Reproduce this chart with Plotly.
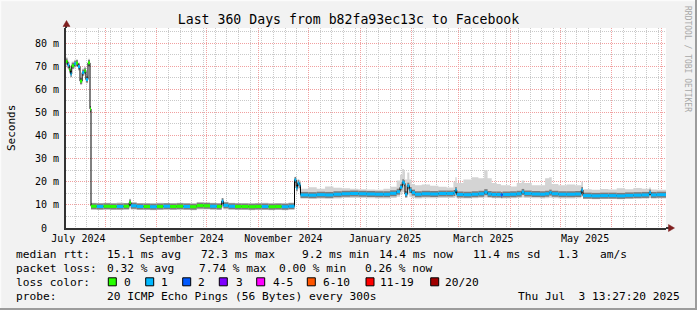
import plotly.graph_objects as go
import pandas as pd

# ---------------- data ----------------
dates = [
    # July 2024 (~70 ms)
    "2024-07-08 13:30", "2024-07-09 12:00", "2024-07-10 12:00", "2024-07-11 06:00",
    "2024-07-12 00:00", "2024-07-13 12:00", "2024-07-14 12:00", "2024-07-15 18:00",
    "2024-07-16 23:00", "2024-07-18 06:00", "2024-07-19 12:00", "2024-07-20 12:00",
    "2024-07-21 18:00", "2024-07-22 23:00",
    # Jul - Nov 2024 (~9 ms)
    "2024-07-23 13:30", "2024-07-27", "2024-07-31", "2024-08-04", "2024-08-08",
    "2024-08-12", "2024-08-15 12:00", "2024-08-16 12:00", "2024-08-20", "2024-08-24",
    "2024-08-28", "2024-09-01", "2024-09-05", "2024-09-09", "2024-09-13",
    "2024-09-17", "2024-09-21", "2024-09-25", "2024-09-29", "2024-10-03",
    "2024-10-07", "2024-10-10", "2024-10-11", "2024-10-14", "2024-10-18",
    "2024-10-22", "2024-10-26", "2024-10-30", "2024-11-03", "2024-11-07",
    "2024-11-11", "2024-11-15", "2024-11-19",
    # late Nov 2024 step
    "2024-11-22 16:00", "2024-11-23 16:00", "2024-11-24 12:00", "2024-11-25 12:00",
    # Nov 2024 - Jul 2025 (~14.5 ms)
    "2024-11-26 06:00", "2024-12-01", "2024-12-06", "2024-12-11", "2024-12-16",
    "2024-12-21", "2024-12-26", "2024-12-31", "2025-01-05", "2025-01-10",
    "2025-01-15", "2025-01-19", "2025-01-22 23:00", "2025-01-24 23:00", "2025-01-26 08:00",
    "2025-01-27 08:00", "2025-01-27 23:00", "2025-01-29 08:00", "2025-01-30 13:00", "2025-01-31 23:00",
    "2025-02-02 23:00", "2025-02-07", "2025-02-12", "2025-02-17", "2025-02-22",
    "2025-02-26", "2025-02-27 03:00", "2025-02-28", "2025-03-04", "2025-03-09",
    "2025-03-13", "2025-03-16 12:00", "2025-03-18 12:00", "2025-03-21", "2025-03-24",
    "2025-03-26 12:00", "2025-03-27 12:00", "2025-04-01", "2025-04-05", "2025-04-07 23:00",
    "2025-04-09 12:00", "2025-04-14", "2025-04-19", "2025-04-22", "2025-04-24 12:00",
    "2025-04-26", "2025-04-30", "2025-05-05", "2025-05-10", "2025-05-13 18:00",
    "2025-05-14 18:00", "2025-05-20", "2025-05-25", "2025-05-30", "2025-06-04",
    "2025-06-09", "2025-06-14", "2025-06-19", "2025-06-23 12:00", "2025-06-24 12:00",
    "2025-06-28", "2025-07-03 13:27",
]

median_ms = [
    72.0, 70.5, 68.5, 66.6, 70.2, 71.0, 71.3, 69.8, 63.5, 67.2, 68.0, 64.2, 71.4, 51.5,
    9.4, 9.3, 9.4, 9.3, 9.3, 9.4, 11.0, 9.6, 9.3, 9.3,
    9.2, 9.3, 9.4, 9.3, 9.4, 9.3, 9.2, 9.7, 9.6, 9.4,
    9.3, 11.6, 9.8, 9.4, 9.3, 9.3, 9.2, 9.3, 9.3, 9.2,
    9.3, 9.2, 9.4,
    20.8, 17.3, 19.4, 18.6,
    14.3, 14.2, 14.4, 14.3, 14.6, 14.8, 14.9, 14.8, 14.7, 14.6,
    14.6, 15.0, 15.7, 17.6, 19.8, 19.3, 14.6, 18.3, 16.4, 15.3,
    14.6, 14.8, 14.7, 14.9, 14.9, 15.1, 16.4, 14.5, 14.4, 14.6,
    14.8, 15.5, 14.7, 14.5, 14.5, 14.3, 14.5, 14.6, 14.8, 15.6,
    14.9, 14.7, 14.6, 14.8, 15.3, 14.8, 14.6, 14.6, 14.7, 16.4,
    14.0, 13.9, 14.0, 14.0, 13.9, 14.1, 14.2, 14.3, 15.3, 14.3,
    14.4, 14.4,
]

smoke_lo_ms = [
    70.2, 68.8, 66.8, 65.0, 68.6, 69.3, 69.6, 68.0, 62.0, 65.6, 66.4, 62.6, 69.6, 50.5,
    7.9, 7.8, 7.9, 7.8, 7.8, 7.9, 8.5, 7.9, 7.8, 7.8,
    7.7, 7.8, 7.9, 7.8, 7.9, 7.8, 7.7, 8.0, 8.0, 7.9,
    7.8, 8.8, 8.0, 7.9, 7.8, 7.8, 7.7, 7.8, 7.8, 7.7,
    7.8, 7.7, 7.9,
    18.2, 15.6, 17.0, 16.5,
    12.6, 12.5, 12.6, 12.5, 12.8, 13.0, 13.0, 13.0, 12.9, 12.8,
    12.8, 13.0, 13.5, 14.5, 15.5, 15.5, 13.0, 14.5, 13.5, 13.0,
    12.8, 12.9, 12.9, 13.0, 13.0, 13.0, 13.5, 12.8, 12.8, 12.9,
    13.0, 13.2, 13.0, 12.9, 12.9, 12.7, 12.8, 12.9, 13.0, 13.2,
    13.0, 12.9, 12.8, 12.9, 13.1, 12.9, 12.8, 12.8, 12.9, 13.5,
    12.5, 12.4, 12.5, 12.5, 12.4, 12.5, 12.6, 12.7, 13.0, 12.7,
    12.8, 12.8,
]

smoke_hi_ms = [
    73.8, 72.4, 70.4, 68.4, 72.0, 72.8, 73.0, 71.6, 65.2, 69.0, 69.8, 66.0, 73.2, 52.5,
    10.9, 10.8, 10.9, 10.7, 11.0, 10.8, 12.6, 11.2, 10.8, 10.7,
    10.8, 10.9, 10.8, 10.7, 10.9, 10.8, 10.7, 11.0, 11.0, 10.9,
    10.8, 13.0, 11.4, 10.9, 10.8, 10.7, 10.8, 10.8, 10.9, 10.8,
    10.7, 10.8, 11.0,
    22.0, 19.8, 21.2, 20.6,
    17.0, 17.6, 17.0, 17.9, 17.4, 17.2, 17.0, 16.8, 16.6, 16.5,
    17.0, 17.8, 20.5, 23.0, 25.5, 24.5, 21.0, 24.0, 21.0, 19.0,
    18.5, 18.8, 18.3, 17.8, 17.5, 20.0, 22.0, 19.5, 21.0, 22.0,
    21.5, 25.0, 21.5, 19.5, 19.0, 18.5, 18.5, 18.0, 19.5, 20.5,
    19.5, 18.5, 18.5, 21.5, 22.0, 19.0, 18.5, 18.8, 18.5, 20.0,
    16.8, 16.5, 16.9, 16.6, 17.2, 16.8, 17.3, 17.0, 17.5, 16.6,
    16.5, 16.5,
]

# index into loss_labels / loss_colors for each interval
loss_idx = [
    0, 1, 0, 1, 0, 1, 0, 1, 0, 1, 0, 1, 0, 0,
    0, 1, 0, 0, 1, 0, 0, 1, 1, 0,
    1, 0, 1, 0, 0, 1, 0, 0, 0, 1,
    0, 1, 1, 1, 0, 0, 0, 0, 1, 0,
    0, 1, 1,
    1, 1, 1, 1,
    1, 1, 1, 1, 1, 1, 1, 1, 1, 1,
    1, 1, 1, 1, 1, 1, 1, 1, 1, 1,
    1, 1, 1, 1, 1, 1, 1, 1, 1, 1,
    1, 1, 1, 1, 1, 2, 1, 1, 1, 1,
    1, 1, 1, 1, 1, 1, 1, 1, 1, 1,
    1, 1, 1, 1, 1, 1, 1, 1, 1, 1,
    1, 1,
]

loss_labels = ["0", "1", "2", "3", "4-5", "6-10", "11-19", "20/20"]
loss_colors = ["#26ff00", "#00b8ff", "#0059ff", "#7e00ff", "#ff00ff", "#ff5500", "#ff0000", "#a00000"]

y_tickvals = [0, 10, 20, 30, 40, 50, 60, 70, 80]
y_ticktext = ["0\u00a0\u00a0", "10 m", "20 m", "30 m", "40 m", "50 m", "60 m", "70 m", "80 m"]
x_label_dates = ["2024-07-16", "2024-09-16", "2024-11-16", "2025-01-16", "2025-03-16", "2025-05-16"]
x_label_text = ["July 2024", "September 2024", "November 2024", "January 2025", "March 2025", "May 2025"]

x_start, x_end = "2024-07-08 13:27:20", "2025-07-03 13:27:20"

title_text = "Last 360 Days from b82fa93ec13c to Facebook"
rtt_stats = ["15.1 ms avg", "72.3 ms max", "9.2 ms min", "14.4 ms now", "11.4 ms sd", "1.3", "am/s"]
loss_stats = ["0.32 % avg", "7.74 % max", "0.00 % min", "0.26 % now"]
probe_text = "20 ICMP Echo Pings (56 Bytes) every 300s"
stamp_text = "Thu Jul\u00a0\u00a03 13:27:20 2025"

assert len(dates) == len(median_ms) == len(smoke_lo_ms) == len(smoke_hi_ms) == len(loss_idx)

# ---------------- figure ----------------
MONO = "DejaVu Sans Mono"
L, R, T, B, W, H = 66, 31, 28, 82, 697, 310
PW, PH = W - L - R, H - T - B


def px(x):
    return (x - L) / PW


def py(y):
    return (T + PH - y) / PH


def segments(sel):
    xs, ys = [], []
    for i in range(len(dates) - 1):
        if sel(i):
            xs += [dates[i], dates[i + 1], None]
            ys += [median_ms[i], median_ms[i], None]
    return xs, ys


fig = go.Figure()
common = dict(hoverinfo="skip", showlegend=False)

fig.add_trace(go.Scatter(x=dates, y=smoke_lo_ms, mode="lines",
                         line=dict(width=0, shape="hv", color="rgba(0,0,0,0)"), **common))
fig.add_trace(go.Scatter(x=dates, y=smoke_hi_ms, mode="lines", fill="tonexty",
                         fillcolor="#d4d4d4",
                         line=dict(width=0, shape="hv", color="rgba(0,0,0,0)"), **common))
sx, sy = segments(lambda i: True)
fig.add_trace(go.Scatter(x=sx, y=sy, mode="lines", line=dict(width=6, color="#7c7c7c"), **common))
fig.add_trace(go.Scatter(x=dates, y=median_ms, mode="lines",
                         line=dict(width=1, color="#000000", shape="hv"), **common))
for k, col in enumerate(loss_colors):
    sx, sy = segments(lambda i, k=k: loss_idx[i] == k)
    if sx:
        fig.add_trace(go.Scatter(x=sx, y=sy, mode="lines", line=dict(width=3, color=col), **common))

# carrier for the monthly major grid axis
fig.add_trace(go.Scatter(x=[x_start, x_end], y=[None, None], xaxis="x2", mode="lines", **common))

month_starts = pd.date_range("2024-08-01", "2025-07-01", freq="MS")
sundays = pd.date_range("2024-07-14", "2025-07-03", freq="7D")

GRID_MINOR = "#c9c9c9"
GRID_MAJOR = "#f1a0a0"
DOT = "1px,1px"
AXIS = "#333333"

fig.update_layout(
    width=W, height=H,
    margin=dict(l=L, r=R, t=T, b=B),
    paper_bgcolor="#f2f2f2", plot_bgcolor="#ffffff",
    showlegend=False, hovermode=False,
    font=dict(family=MONO, color="#000000", size=10),
    title=dict(text=title_text, x=0.5, xref="container", xanchor="center",
               y=1 - 19 / H, yref="container", yanchor="middle",
               font=dict(family=MONO, size=13.2, color="#000000")),
    xaxis=dict(type="date", range=[x_start, x_end], tickvals=x_label_dates, ticktext=x_label_text,
               showgrid=False, zeroline=False, ticks="", showline=True, linecolor=AXIS, linewidth=2,
               tickfont=dict(family=MONO, size=10),
               minor=dict(tickvals=list(sundays), showgrid=True, gridcolor=GRID_MINOR,
                          griddash=DOT, gridwidth=1, ticks="")),
    xaxis2=dict(type="date", range=[x_start, x_end], overlaying="x", anchor="y",
                tickvals=list(month_starts), showticklabels=False, ticks="",
                showgrid=True, gridcolor=GRID_MAJOR, griddash=DOT, gridwidth=1,
                showline=False, zeroline=False),
    yaxis=dict(range=[0, PH / 2.3125], tickvals=y_tickvals, ticktext=y_ticktext,
               showgrid=True, gridcolor=GRID_MAJOR, griddash=DOT, gridwidth=1,
               zeroline=False, ticks="", showline=True, linecolor=AXIS, linewidth=2,
               tickfont=dict(family=MONO, size=10), ticklabelstandoff=3,
               minor=dict(dtick=5, showgrid=True, gridcolor=GRID_MINOR, griddash=DOT, ticks="")),
)

ann = []


def text(t, x, y, size=11.2, anchor="left", **kw):
    ann.append(dict(text=t, x=px(x), y=py(y), xref="paper", yref="paper", showarrow=False,
                    xanchor=anchor, yanchor="middle", borderpad=0, borderwidth=0,
                    font=dict(family=MONO, size=size, color=kw.pop("color", "#000000")), **kw))


# y-axis title and watermark
text("Seconds", 11, 128, size=11, anchor="center", textangle=-90)
text("RRDTOOL / TOBI OETIKER", 688, 59, size=8, anchor="center", textangle=90, color="#a8a8a8")

# legend rows
row_y = [254.3, 268.3, 282.3, 296.0]
text("median rtt:", 16, row_y[0])
for t, x in zip(rtt_stats, [107.3, 201, 301.7, 379.3, 472.7, 558.3, 600]):
    text(t, x, row_y[0])
text("packet loss:", 16, row_y[1])
for t, x in zip(loss_stats, [107.3, 199.3, 279.3, 365]):
    text(t, x, row_y[1])
text("loss color:", 16, row_y[2])
sq_x = [108.3, 145.7, 182.7, 219.3, 256.7, 307.3, 366, 430.7]
lab_x = [124, 161, 198.3, 235.7, 272.7, 323, 380, 445]
shapes = []
for lab, col, sx0, lx in zip(loss_labels, loss_colors, sq_x, lab_x):
    text(lab, lx, row_y[2])
    shapes.append(dict(type="rect", xref="paper", yref="paper",
                       x0=px(sx0), x1=px(sx0 + 8), y0=py(277.8), y1=py(285.8),
                       fillcolor=col, line=dict(color="#000000", width=1)))
text("probe:", 16, row_y[3])
text(probe_text, 107.3, row_y[3])
text(stamp_text, 680, row_y[3], anchor="right")

# axis extensions with arrows, image frame
ARROW = "#7f1f1f"
shapes += [
    dict(type="line", xref="paper", yref="paper", x0=px(66), x1=px(66), y0=py(28), y1=py(24),
         line=dict(color=AXIS, width=2)),
    dict(type="path", xref="paper", yref="paper",
         path=f"M {px(63)},{py(26.5)} L {px(70)},{py(26.5)} L {px(66.5)},{py(20.5)} Z",
         fillcolor=ARROW, line=dict(color=ARROW, width=0.5)),
    dict(type="line", xref="paper", yref="paper", x0=px(666), x1=px(669), y0=py(228), y1=py(228),
         line=dict(color=AXIS, width=2)),
    dict(type="path", xref="paper", yref="paper",
         path=f"M {px(668.5)},{py(224.5)} L {px(668.5)},{py(231.5)} L {px(674.5)},{py(228)} Z",
         fillcolor=ARROW, line=dict(color=ARROW, width=0.5)),
    dict(type="line", xref="paper", yref="paper", x0=px(0), x1=px(697), y0=py(0.5), y1=py(0.5),
         line=dict(color="#fbfbfb", width=1.5)),
    dict(type="line", xref="paper", yref="paper", x0=px(0.5), x1=px(0.5), y0=py(0), y1=py(310),
         line=dict(color="#fbfbfb", width=1.5)),
    dict(type="line", xref="paper", yref="paper", x0=px(0), x1=px(697), y0=py(309), y1=py(309),
         line=dict(color="#9c9c9c", width=2)),
    dict(type="line", xref="paper", yref="paper", x0=px(696), x1=px(696), y0=py(0), y1=py(310),
         line=dict(color="#9c9c9c", width=2)),
]

fig.update_layout(annotations=ann, shapes=shapes)
fig.write_html("out.html")
